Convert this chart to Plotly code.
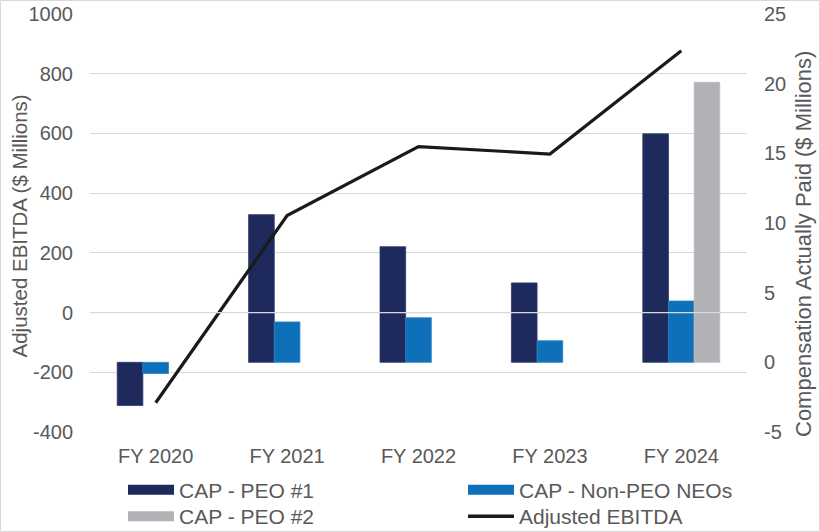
import plotly.graph_objects as go

categories = ["FY 2020", "FY 2021", "FY 2022", "FY 2023", "FY 2024"]
cap_peo1 = [-3.1, 10.6, 8.3, 5.7, 16.4]
cap_non_peo = [-0.8, 2.9, 3.2, 1.55, 4.4]
cap_peo2 = [None, None, None, None, 20.1]
adj_ebitda = [-302, 325, 556, 531, 877]

left_tickvals = [-400, -200, 0, 200, 400, 600, 800, 1000]
left_ticktext = ["-400", "-200", "0", "200", "400", "600", "800", "1000"]
right_tickvals = [-5, 0, 5, 10, 15, 20, 25]
right_ticktext = ["-5", "0", "5", "10", "15", "20", "25"]

C_PEO1 = "#1F2A5C"
C_NON = "#0F70BA"
C_PEO2 = "#B1B2B6"
C_LINE = "#1A1A1A"
TXT = "#595959"
GRID = "#D9D9D9"
FONT = "Liberation Sans, Arial, sans-serif"

fig = go.Figure()

fig.add_trace(go.Bar(x=categories, y=cap_peo1, name="CAP - PEO #1", marker=dict(color=C_PEO1, line=dict(color="#2E3A72", width=0.8)), yaxis="y", showlegend=False))
fig.add_trace(go.Bar(x=categories, y=cap_non_peo, name="CAP - Non-PEO NEOs", marker=dict(color=C_NON, line=dict(color="#2A82C8", width=0.8)), yaxis="y", showlegend=False))
fig.add_trace(go.Bar(x=categories, y=cap_peo2, name="CAP - PEO #2", marker=dict(color=C_PEO2, line=dict(color="#BDBEC2", width=0.8)), yaxis="y", showlegend=False))
fig.add_trace(go.Scatter(x=categories, y=adj_ebitda, name="Adjusted EBITDA", mode="lines", line=dict(color=C_LINE, width=3.2), yaxis="y2", showlegend=False))

# legend entries (swatches), one small legend each so they sit in a 2x2 grid
fig.add_trace(go.Scatter(x=[None], y=[None], mode="lines", name="CAP - PEO #1", line=dict(color=C_PEO1, width=11), legend="legend"))
fig.add_trace(go.Scatter(x=[None], y=[None], mode="lines", name="CAP - Non-PEO NEOs", line=dict(color=C_NON, width=11), legend="legend2"))
fig.add_trace(go.Scatter(x=[None], y=[None], mode="lines", name="CAP - PEO #2", line=dict(color=C_PEO2, width=11), legend="legend3"))
fig.add_trace(go.Scatter(x=[None], y=[None], mode="lines", name="Adjusted EBITDA", line=dict(color=C_LINE, width=3.5), legend="legend4"))

L, R, T, B = 90, 73, 14, 100
W, H = 820, 532
pw = W - L - R
ph = H - T - B

def px_x(px):
    return (px - L) / pw

def px_y(py):
    return (H - B - py) / ph

legend_common = dict(orientation="v", xanchor="left", yanchor="middle", font=dict(family=FONT, size=21, color=TXT),
                     bgcolor="rgba(0,0,0,0)", itemwidth=46)

fig.update_layout(
    width=W, height=H,
    margin=dict(l=L, r=R, t=T, b=B, autoexpand=False),
    paper_bgcolor="white", plot_bgcolor="white",
    font=dict(family=FONT, size=20, color=TXT),
    barmode="group", bargap=0.414, bargroupgap=0,
    xaxis=dict(type="category", showgrid=False, showline=False, zeroline=False, ticks="",
               tickfont=dict(size=20, color=TXT), ticklabelstandoff=10),
    yaxis=dict(side="right", range=[-5, 25], tickvals=right_tickvals, ticktext=right_ticktext,
               showgrid=False, zeroline=False, showline=False,
               ticks="", tickfont=dict(size=20, color=TXT), ticklabelstandoff=16),
    yaxis2=dict(side="left", overlaying="y", range=[-400, 1000], tickvals=left_tickvals, ticktext=left_ticktext,
                showgrid=True, gridcolor=GRID,
                gridwidth=1.3, zeroline=False, showline=False, ticks="", tickfont=dict(size=20, color=TXT),
                ticklabelstandoff=16),
    legend=dict(x=px_x(123), y=px_y(490), **legend_common),
    legend2=dict(x=px_x(463), y=px_y(490), **legend_common),
    legend3=dict(x=px_x(123), y=px_y(516.5), **legend_common),
    legend4=dict(x=px_x(463), y=px_y(516.5), **legend_common),
    annotations=[
        dict(text="Adjusted EBITDA ($ Millions)", xref="paper", yref="paper", x=px_x(18.5), y=px_y(226),
             xanchor="center", yanchor="middle", textangle=-90, showarrow=False,
             font=dict(family=FONT, size=20.5, color=TXT)),
        dict(text="Compensation Actually Paid ($ Millions)", xref="paper", yref="paper", x=px_x(803), y=px_y(244),
             xanchor="center", yanchor="middle", textangle=-90, showarrow=False,
             font=dict(family=FONT, size=22, color=TXT)),
    ],
    shapes=[
        dict(type="line", xref="paper", yref="y2", x0=0, x1=1, y0=0, y1=0, layer="above",
             line=dict(color=GRID, width=1.3)),
        dict(type="rect", xref="paper", yref="paper", x0=px_x(0.5), x1=px_x(819.5), y0=px_y(531.5), y1=px_y(0.5),
             line=dict(color=GRID, width=1), layer="below"),
    ],
)

fig.write_html("out.html", config={"displayModeBar": False},
               post_script="document.body.style.margin='0px';")
